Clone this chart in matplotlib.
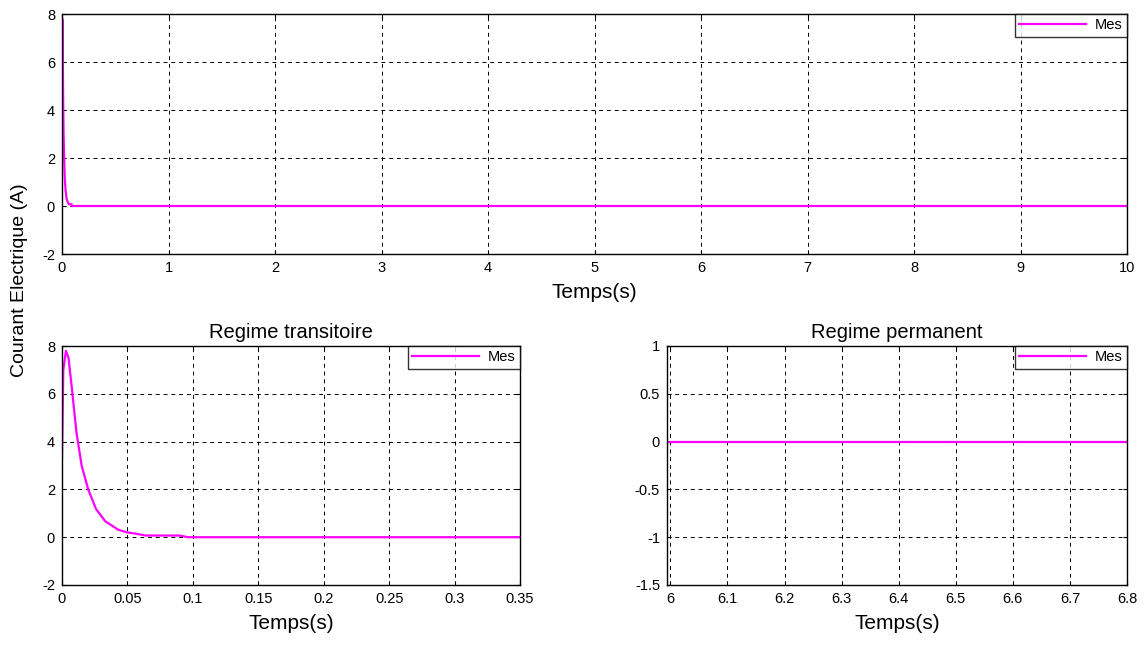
import numpy as np
import matplotlib.pyplot as plt

plt.rcParams['font.family'] = ['Liberation Sans', 'DejaVu Sans']
plt.rcParams['axes.unicode_minus'] = False

t_trans = [0.0, 0.001, 0.003, 0.005, 0.008, 0.011, 0.015, 0.020, 0.026, 0.033,
           0.043, 0.050, 0.056, 0.064, 0.075, 0.090, 0.096, 0.35]
i_trans = [3.3, 7.0, 7.8, 7.5, 6.0, 4.4, 3.0, 2.0, 1.18, 0.67,
           0.31, 0.2, 0.15, 0.07, 0.07, 0.07, 0.0, 0.0]

# courant complet sur 10 s
t_full = t_trans[:-1] + [10.0]
i_full = i_trans[:-1] + [0.0]

# regime permanent
t_perm = [5.99, 6.8]
i_perm = [0.0, 0.0]

fig = plt.figure(figsize=(11.44, 6.46), dpi=100)
W, H = 1144, 646

def box(l, t, r, b):
    return [l / W, 1 - b / H, (r - l) / W, (b - t) / H]

ax1 = fig.add_axes(box(62, 14, 1127, 254))
ax2 = fig.add_axes(box(62, 346, 520, 585))
ax3 = fig.add_axes(box(667, 346, 1127, 585))

col = '#ff00ff'
for ax, t, i in [(ax1, t_full, i_full), (ax2, t_trans, i_trans), (ax3, t_perm, i_perm)]:
    ax.plot(t, i, color=col, lw=1.6, label='Mes')
    ax.grid(True, color='black', linestyle=(0, (4, 4)), linewidth=0.7)
    ax.tick_params(direction='in', labelsize=10.5, length=3, pad=5,
                   top=True, right=True, labeltop=False, labelright=False)
    for s in ax.spines.values():
        s.set_linewidth(1.0)
    ax.set_xlabel('Temps(s)', fontsize=15, labelpad=6)
    leg = ax.legend(loc='upper right', fontsize=10.5, frameon=True, fancybox=False,
                    borderaxespad=0, handlelength=4.6, handletextpad=0.6,
                    borderpad=0.3)
    leg.get_frame().set_edgecolor('black')
    leg.get_frame().set_linewidth(1.0)

ax1.set_xlim(0, 10)
ax1.set_ylim(-2, 8)
ax1.set_xticks(np.arange(0, 11, 1))
ax1.set_yticks(np.arange(-2, 9, 2))

ax2.set_xlim(0, 0.35)
ax2.set_ylim(-2, 8)
ax2.set_xticks([0, 0.05, 0.1, 0.15, 0.2, 0.25, 0.3, 0.35])
ax2.set_xticklabels(['0', '0.05', '0.1', '0.15', '0.2', '0.25', '0.3', '0.35'])
ax2.set_yticks(np.arange(-2, 9, 2))
ax2.set_title('Regime transitoire', fontsize=14.5, pad=6)

ax3.set_xlim(5.994, 6.8)
ax3.set_ylim(-1.5, 1)
ax3.set_xticks([6, 6.1, 6.2, 6.3, 6.4, 6.5, 6.6, 6.7, 6.8])
ax3.set_xticklabels(['6', '6.1', '6.2', '6.3', '6.4', '6.5', '6.6', '6.7', '6.8'])
ax3.set_yticks([-1.5, -1, -0.5, 0, 0.5, 1])
ax3.set_yticklabels(['-1.5', '-1', '-0.5', '0', '0.5', '1'])
ax3.set_title('Regime permanent', fontsize=14.5, pad=6)

fig.text(20 / W, 1 - 280 / H, 'Courant Electrique (A)', rotation=90, fontsize=14,
         ha='center', va='center')

fig.savefig('out.png', dpi=100)
